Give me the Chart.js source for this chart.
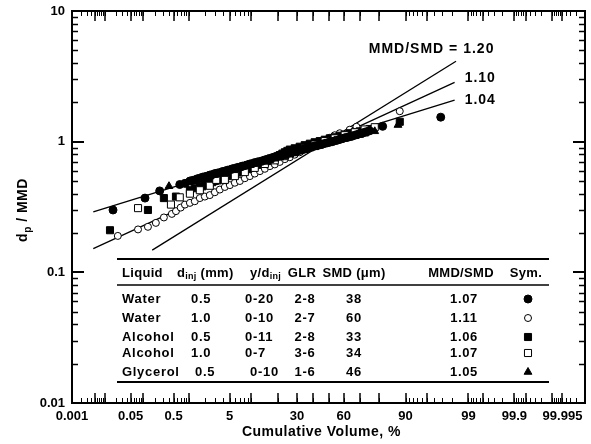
<!DOCTYPE html>
<html>
<head>
<meta charset="utf-8">
<script src="https://cdn.jsdelivr.net/npm/chart.js@4"></script>
<style>
  html, body { margin: 0; padding: 0; background: #fff; }
</style>
</head>
<body>
<canvas id="chart" width="591" height="444"></canvas>
<script>
const FONT = "'Liberation Sans', Arial, Helvetica, sans-serif";

// Axis tick labels
const xTickValues = [0.001, 0.05, 0.5, 5, 30, 60, 90, 99, 99.9, 99.995];
const xTickLabels = ['0.001', '0.05', '0.5', '5', '30', '60', '90', '99', '99.9', '99.995'];
const yTickValues = [0.01, 0.1, 1, 10];
const yTickLabels = ['0.01', '0.1', '1', '10'];

// Long tick marks on the probability axis
const xMajorMarks = [0.001, 0.005, 0.01, 0.05, 0.1, 0.5, 1, 5, 10, 20, 30, 40, 50, 60, 70, 80, 90, 95, 99, 99.5, 99.9, 99.95, 99.99, 99.995];

// Water, d_inj 0.5 mm (filled circles)
const water05Cum = [0.017, 0.114, 0.25, 0.67, 0.85, 1.06, 1.18, 1.31, 1.46, 1.62, 1.80, 1.99, 2.20, 2.42, 2.67, 2.94, 3.23, 3.54, 3.88, 4.24, 4.63, 5.05, 5.50, 5.97, 6.49, 7.03, 7.60, 8.21, 8.86, 9.55, 10.25, 11.0, 11.85, 12.7, 13.6, 14.5, 15.5, 16.5, 17.55, 18.6, 19.75, 20.9, 22.15, 23.4, 24.7, 26.0, 27.35, 28.7, 30.15, 31.6, 33.1, 34.6, 36.2, 37.8, 39.35, 40.9, 42.55, 44.2, 45.85, 47.5, 49.15, 50.8, 52.45, 54.1, 55.75, 57.4, 59.0, 60.6, 62.2, 63.8, 65.35, 66.9, 68.35, 69.8, 71.2, 72.6, 73.95, 75.3, 81.6, 96.9];
const water05Dp = [0.30, 0.37, 0.42, 0.47, 0.48, 0.50, 0.505, 0.51, 0.52, 0.525, 0.535, 0.54, 0.545, 0.555, 0.56, 0.57, 0.575, 0.58, 0.59, 0.595, 0.605, 0.61, 0.62, 0.625, 0.635, 0.64, 0.65, 0.655, 0.665, 0.675, 0.68, 0.69, 0.70, 0.705, 0.715, 0.725, 0.735, 0.745, 0.755, 0.765, 0.775, 0.78, 0.79, 0.80, 0.81, 0.82, 0.83, 0.84, 0.85, 0.86, 0.87, 0.88, 0.895, 0.905, 0.915, 0.925, 0.935, 0.945, 0.955, 0.97, 0.98, 0.99, 1.00, 1.015, 1.025, 1.04, 1.055, 1.07, 1.08, 1.09, 1.105, 1.12, 1.135, 1.15, 1.16, 1.18, 1.195, 1.21, 1.31, 1.54];

// Water, d_inj 1.0 mm (open circles)
const water10Cum = [0.023, 0.077, 0.134, 0.205, 0.31, 0.46, 0.56, 0.70, 0.85, 1.06, 1.31, 1.62, 1.99, 2.42, 2.94, 3.54, 4.24, 5.05, 5.97, 7.03, 8.21, 9.55, 11.0, 12.7, 14.5, 16.5, 18.6, 20.9, 23.4, 26.0, 28.7, 31.6, 34.6, 37.8, 40.9, 44.2, 47.5, 50.8, 54.1, 57.4, 63.8, 67.9, 88.2];
const water10Dp = [0.19, 0.213, 0.223, 0.239, 0.263, 0.28, 0.294, 0.313, 0.33, 0.34, 0.35, 0.37, 0.38, 0.39, 0.41, 0.43, 0.45, 0.465, 0.485, 0.50, 0.525, 0.545, 0.57, 0.595, 0.62, 0.65, 0.67, 0.70, 0.735, 0.76, 0.795, 0.83, 0.87, 0.905, 0.95, 0.98, 1.03, 1.07, 1.12, 1.16, 1.235, 1.30, 1.71];

// Alcohol, d_inj 0.5 mm (filled squares)
const alcohol05Cum = [0.014, 0.134, 0.31, 0.56, 1.06, 1.31, 1.62, 1.80, 1.99, 2.20, 2.42, 2.67, 2.94, 3.23, 3.54, 3.88, 4.24, 4.63, 5.05, 5.50, 5.97, 6.49, 7.03, 7.60, 8.21, 8.86, 9.55, 10.25, 11.0, 11.85, 12.7, 13.6, 14.5, 15.5, 16.5, 17.55, 18.6, 19.75, 20.9, 22.15, 23.4, 24.7, 26.0, 28.7, 31.6, 34.6, 37.8, 40.9, 44.2, 47.5, 50.8, 54.1, 57.4, 60.6, 63.8, 66.9, 69.8, 72.6, 75.3, 88.2];
const alcohol05Dp = [0.21, 0.30, 0.37, 0.38, 0.425, 0.44, 0.45, 0.455, 0.465, 0.47, 0.48, 0.49, 0.50, 0.505, 0.515, 0.525, 0.535, 0.545, 0.555, 0.56, 0.57, 0.58, 0.59, 0.60, 0.61, 0.62, 0.63, 0.64, 0.655, 0.665, 0.68, 0.69, 0.70, 0.71, 0.725, 0.735, 0.75, 0.77, 0.79, 0.81, 0.83, 0.85, 0.87, 0.89, 0.915, 0.94, 0.965, 0.99, 1.01, 1.035, 1.06, 1.08, 1.11, 1.13, 1.16, 1.18, 1.20, 1.22, 1.25, 1.42];

// Alcohol, d_inj 1.0 mm (open squares)
const alcohol10Cum = [0.077, 0.44, 0.67, 1.06, 1.62, 2.42, 3.1, 4.24, 5.97, 8.21, 11.0, 14.5, 18.6, 23.4, 28.7, 34.6, 40.9, 47.5, 54.1, 60.6, 66.9, 72.6, 77.9];
const alcohol10Dp = [0.31, 0.33, 0.375, 0.40, 0.425, 0.46, 0.51, 0.51, 0.545, 0.585, 0.63, 0.675, 0.72, 0.775, 0.83, 0.89, 0.95, 1.01, 1.06, 1.12, 1.18, 1.24, 1.29];

// Glycerol, d_inj 0.5 mm (filled triangles)
const glycerolCum = [0.40, 0.85, 1.31, 1.62, 1.99, 2.42, 2.94, 3.54, 4.24, 5.05, 5.97, 7.03, 8.21, 9.55, 11.0, 12.7, 14.5, 16.5, 18.6, 20.9, 23.4, 26.0, 28.7, 31.6, 34.6, 37.8, 40.9, 44.2, 47.5, 50.8, 54.1, 57.4, 60.6, 63.8, 66.9, 69.8, 72.6, 77.9, 87.6];
const glycerolDp = [0.456, 0.47, 0.50, 0.51, 0.525, 0.54, 0.555, 0.57, 0.585, 0.60, 0.615, 0.63, 0.65, 0.66, 0.675, 0.69, 0.70, 0.72, 0.74, 0.755, 0.775, 0.795, 0.815, 0.84, 0.86, 0.885, 0.905, 0.93, 0.955, 0.985, 1.01, 1.03, 1.05, 1.075, 1.10, 1.125, 1.15, 1.20, 1.34];

// Reference log-normal lines (end points) and their labels
const fitNames = ['MMD/SMD = 1.20', '1.10', '1.04'];
const fitCum = [[0.169, 98.3], [0.0046, 98.2], [0.0046, 98.2]];
const fitDp = [[0.148, 4.13], [0.152, 2.84], [0.290, 2.08]];
const fitLabelCum = [99.71, 98.82, 98.82];
const fitLabelDp = [5.11, 3.06, 2.08];
const fitLabelAlign = ['right', 'left', 'left'];

// Table
const tableLiquid = ['Water', 'Water', 'Alcohol', 'Alcohol', 'Glycerol'];
const tableDinj = ['0.5', '1.0', '0.5', '1.0', '0.5'];
const tableYdinj = ['0-20', '0-10', '0-11', '0-7', '0-10'];
const tableGLR = ['2-8', '2-7', '2-8', '3-6', '1-6'];
const tableSMD = ['38', '60', '33', '34', '46'];
const tableRatio = ['1.07', '1.11', '1.06', '1.07', '1.05'];

// Inverse normal CDF (Acklam)
function probit(p) {
    const a = [-3.969683028665376e+01, 2.209460984245205e+02, -2.759285104469687e+02, 1.383577518672690e+02, -3.066479806614716e+01, 2.506628277459239e+00];
    const b = [-5.447609879822406e+01, 1.615858368580409e+02, -1.556989798598866e+02, 6.680131188771972e+01, -1.328068155288572e+01];
    const c = [-7.784894002430293e-03, -3.223964580411365e-01, -2.400758277161838e+00, -2.549732539343734e+00, 4.374664141464968e+00, 2.938163982698783e+00];
    const d = [7.784695709041462e-03, 3.224671290700398e-01, 2.445134137142996e+00, 3.754408661907416e+00];
    const pl = 0.02425;
    if (p < pl) {
        const q = Math.sqrt(-2 * Math.log(p));
        return (((((c[0]*q+c[1])*q+c[2])*q+c[3])*q+c[4])*q+c[5]) / ((((d[0]*q+d[1])*q+d[2])*q+d[3])*q+1);
    }
    if (p <= 1 - pl) {
        const q = p - 0.5, r = q * q;
        return (((((a[0]*r+a[1])*r+a[2])*r+a[3])*r+a[4])*r+a[5])*q / (((((b[0]*r+b[1])*r+b[2])*r+b[3])*r+b[4])*r+1);
    }
    const q = Math.sqrt(-2 * Math.log(1 - p));
    return -(((((c[0]*q+c[1])*q+c[2])*q+c[3])*q+c[4])*q+c[5]) / ((((d[0]*q+d[1])*q+d[2])*q+d[3])*q+1);
}

function normCdf(z) {
    const t = 1 / (1 + 0.3275911 * Math.abs(z) / Math.SQRT2);
    const y = 1 - (((((1.061405429*t - 1.453152027)*t) + 1.421413741)*t - 0.284496736)*t + 0.254829592)*t * Math.exp(-z*z/2);
    return z >= 0 ? 0.5 * (1 + y) : 0.5 * (1 - y);
}

// Normal probability scale, values in percent
class ProbabilityScale extends Chart.Scale {
    static id = 'probability';
    static defaults = {};
    determineDataLimits() {
        this.min = this.options.min;
        this.max = this.options.max;
    }
    buildTicks() {
        return xTickValues.map(v => ({value: v}));
    }
    getLabelForValue(v) {
        return String(v);
    }
    configure() {
        super.configure();
        this._zStart = probit(this.min / 100);
        this._zRange = probit(this.max / 100) - this._zStart;
    }
    getPixelForValue(v) {
        return this.getPixelForDecimal((probit(v / 100) - this._zStart) / this._zRange);
    }
    getValueForPixel(px) {
        return 100 * normCdf(this._zStart + this.getDecimalForPixel(px) * this._zRange);
    }
}
Chart.register(ProbabilityScale);

function xMinorMarks() {
    const marks = [];
    [0.001, 0.01, 0.1, 1].forEach(base => {
        for (let k = 1; k <= 9; k++) marks.push(base * k);
    });
    for (let k = 1; k <= 9; k++) marks.push(10 * k);
    [1, 0.1, 0.01, 0.001].forEach(base => {
        for (let k = 1; k <= 9; k++) marks.push(100 - base * k);
    });
    return marks;
}

function drawMarker(ctx, style, r, x, y, fill, stroke, lw) {
    ctx.beginPath();
    if (style === 'circle') {
        ctx.arc(x, y, r, 0, Math.PI * 2);
    } else if (style === 'rect') {
        const h = r * Math.SQRT1_2;
        ctx.rect(x - h, y - h, 2 * h, 2 * h);
    } else if (style === 'triangle') {
        ctx.moveTo(x, y - r);
        ctx.lineTo(x + r * 0.866, y + r / 2);
        ctx.lineTo(x - r * 0.866, y + r / 2);
        ctx.closePath();
    }
    ctx.fillStyle = fill;
    ctx.fill();
    ctx.lineWidth = lw;
    ctx.strokeStyle = stroke;
    ctx.stroke();
}

// text with subscript parts: [['d'], ['inj', true], [' (mm)']]
function richWidth(ctx, parts, size) {
    let w = 0;
    parts.forEach(([t, sub]) => {
        ctx.font = `bold ${sub ? size - 4 : size}px ${FONT}`;
        w += ctx.measureText(t).width;
    });
    return w;
}
function drawRich(ctx, parts, x, y, size) {
    let cx = x;
    parts.forEach(([t, sub]) => {
        ctx.font = `bold ${sub ? size - 4 : size}px ${FONT}`;
        ctx.fillText(t, cx, sub ? y + 4 : y);
        cx += ctx.measureText(t).width;
    });
}

const decorations = {
    id: 'decorations',
    afterDatasetsDraw(chart) {
        const {ctx, chartArea: a, scales: {x, y}} = chart;
        ctx.save();
        ctx.strokeStyle = '#000';
        ctx.fillStyle = '#000';
        const seg = (x1, y1, x2, y2) => { ctx.beginPath(); ctx.moveTo(x1, y1); ctx.lineTo(x2, y2); ctx.stroke(); };

        // x tick marks (bottom and top, inward)
        ctx.lineWidth = 1;
        xMinorMarks().forEach(v => {
            const px = Math.round(x.getPixelForValue(v)) + 0.5;
            seg(px, a.bottom, px, a.bottom - 5);
            seg(px, a.top, px, a.top + 5);
        });
        ctx.lineWidth = 1.5;
        xMajorMarks.forEach(v => {
            const px = Math.round(x.getPixelForValue(v));
            seg(px, a.bottom, px, a.bottom - 10);
            seg(px, a.top, px, a.top + 10);
        });
        // y tick marks (left and right, inward)
        ctx.lineWidth = 1.5;
        for (let dec = 0.01; dec < 10; dec *= 10) {
            for (let k = 2; k <= 9; k++) {
                const py = Math.round(y.getPixelForValue(dec * k)) + 0.5;
                seg(a.left, py, a.left + 6, py);
                seg(a.right, py, a.right - 6, py);
            }
        }
        ctx.lineWidth = 2;
        yTickValues.forEach(v => {
            const py = Math.round(y.getPixelForValue(v));
            seg(a.left, py, a.left + 12, py);
            seg(a.right, py, a.right - 12, py);
        });
        ctx.strokeRect(a.left, a.top, a.right - a.left, a.bottom - a.top);

        // line labels
        ctx.font = `bold 14px ${FONT}`;
        ctx.textBaseline = 'middle';
        ctx.letterSpacing = '1px';
        fitNames.forEach((t, i) => {
            ctx.textAlign = fitLabelAlign[i];
            ctx.fillText(t, x.getPixelForValue(fitLabelCum[i]), y.getPixelForValue(fitLabelDp[i]));
        });

        // table
        const L = a.left, T = a.top;
        ctx.lineWidth = 2;
        seg(L + 45, T + 248, L + 477, T + 248);
        ctx.lineWidth = 1.5;
        seg(L + 45, T + 274, L + 477, T + 274);
        ctx.lineWidth = 2;
        seg(L + 45, T + 371, L + 477, T + 371);

        const fs = 13;
        ctx.letterSpacing = '0.3px';
        ctx.textBaseline = 'middle';
        ctx.textAlign = 'left';
        const hy = T + 262;
        drawRich(ctx, [['Liquid']], L + 50, hy, fs);
        drawRich(ctx, [['d'], ['inj', true], [' (mm)']], L + 105, hy, fs);
        drawRich(ctx, [['y/d'], ['inj', true]], L + 178, hy, fs);
        const centered = (parts, cx) => drawRich(ctx, parts, cx - richWidth(ctx, parts, fs) / 2, hy, fs);
        centered([['GLR']], L + 230);
        centered([['SMD (\u03bcm)']], L + 282);
        centered([['MMD/SMD']], L + 389);
        centered([['Sym.']], L + 454);

        ctx.letterSpacing = '0.7px';
        const rowY = [T + 288, T + 307, T + 326, T + 342, T + 361];
        const dinjX = [L + 119, L + 119, L + 119, L + 119, L + 123];
        const ydX = [L + 173, L + 173, L + 173, L + 173, L + 178];
        rowY.forEach((ry, i) => {
            ctx.fillStyle = '#000';
            ctx.font = `bold ${fs}px ${FONT}`;
            ctx.textAlign = 'left';
            ctx.fillText(tableLiquid[i], L + 50, ry);
            ctx.fillText(tableDinj[i], dinjX[i], ry);
            ctx.fillText(tableYdinj[i], ydX[i], ry);
            ctx.textAlign = 'center';
            ctx.fillText(tableGLR[i], L + 233, ry);
            ctx.fillText(tableSMD[i], L + 282, ry);
            ctx.fillText(tableRatio[i], L + 392, ry);
            const ds = chart.data.datasets[i];
            drawMarker(ctx, ds.pointStyle, ds.pointRadius, L + 456, ry, ds.backgroundColor, ds.borderColor, ds.borderWidth);
        });

        // axis titles
        ctx.fillStyle = '#000';
        ctx.textAlign = 'center';
        ctx.letterSpacing = '0.5px';
        ctx.font = `bold 14px ${FONT}`;
        ctx.fillText('Cumulative Volume, %', (a.left + a.right) / 2 - 7, 432);

        ctx.translate(27, 210);
        ctx.rotate(-Math.PI / 2);
        ctx.textBaseline = 'alphabetic';
        ctx.textAlign = 'left';
        const yParts = [['d'], ['p', true], [' / MMD']];
        drawRich(ctx, yParts, -richWidth(ctx, yParts, 14) / 2, 0, 14);
        ctx.restore();
    }
};

const pts = (cum, dp) => cum.map((c, i) => ({x: c, y: dp[i]}));

const datasets = [
    {label: 'Water 0.5', data: pts(water05Cum, water05Dp), pointStyle: 'circle', pointRadius: 4,
     backgroundColor: '#000', borderColor: '#000', borderWidth: 1, order: 1},
    {label: 'Water 1.0', data: pts(water10Cum, water10Dp), pointStyle: 'circle', pointRadius: 3.5,
     backgroundColor: '#fff', borderColor: '#000', borderWidth: 1, order: 5},
    {label: 'Alcohol 0.5', data: pts(alcohol05Cum, alcohol05Dp), pointStyle: 'rect', pointRadius: 5,
     backgroundColor: '#000', borderColor: '#000', borderWidth: 1, order: 4},
    {label: 'Alcohol 1.0', data: pts(alcohol10Cum, alcohol10Dp), pointStyle: 'rect', pointRadius: 5,
     backgroundColor: '#fff', borderColor: '#000', borderWidth: 1, order: 3},
    {label: 'Glycerol 0.5', data: pts(glycerolCum, glycerolDp), pointStyle: 'triangle', pointRadius: 4.5,
     backgroundColor: '#000', borderColor: '#000', borderWidth: 1, order: 2}
];
fitNames.forEach((name, i) => {
    datasets.push({
        label: name, data: pts(fitCum[i], fitDp[i]), showLine: true, pointRadius: 0,
        borderColor: '#000', borderWidth: 1.3, fill: false, order: 6
    });
});

new Chart(document.getElementById('chart'), {
    type: 'scatter',
    data: {datasets},
    options: {
        responsive: false,
        animation: false,
        layout: {padding: {top: 11, right: 5, left: 0, bottom: 0}},
        plugins: {legend: {display: false}, tooltip: {enabled: false}},
        scales: {
            x: {
                type: 'probability', position: 'bottom', min: 0.001, max: 99.999,
                grid: {display: false, drawTicks: false}, border: {display: false},
                ticks: {autoSkip: false, maxRotation: 0, padding: 6, color: '#000',
                        font: {family: FONT, size: 13, weight: 'bold'},
                        callback: (v, i) => xTickLabels[i]},
                afterFit: s => { s.height = 41; }
            },
            y: {
                type: 'logarithmic', min: 0.01, max: 10,
                grid: {display: false, drawTicks: false}, border: {display: false},
                afterBuildTicks: s => { s.ticks = yTickValues.map(v => ({value: v})); },
                ticks: {autoSkip: false, padding: 7, color: '#000',
                        font: {family: FONT, size: 13, weight: 'bold'},
                        callback: (v, i) => yTickLabels[i]},
                afterFit: s => { s.width = 72; s.paddingTop = 0; s.paddingBottom = 0; }
            }
        }
    },
    plugins: [decorations]
});
</script>
</body>
</html>
